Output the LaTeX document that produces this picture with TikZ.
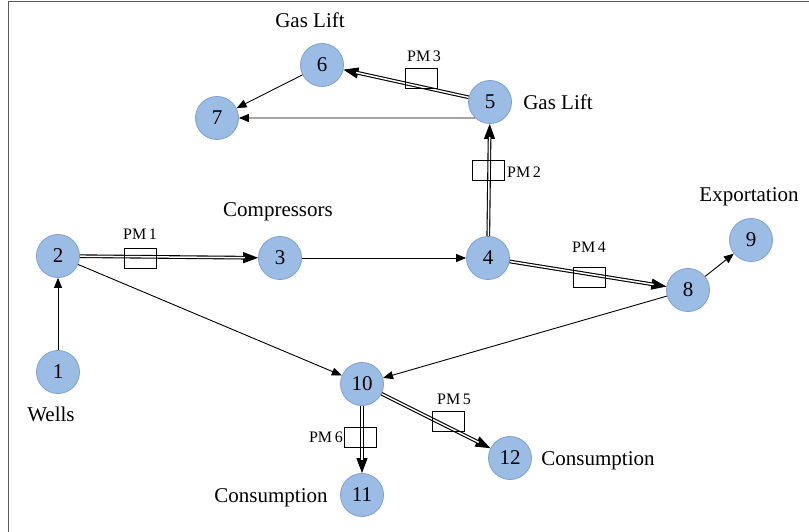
\documentclass[tikz,border=0pt]{standalone}
\usepackage{fontspec}
\setmainfont{Liberation Serif}
\usetikzlibrary{arrows.meta}
\definecolor{nodefill}{RGB}{155,188,228}
\definecolor{nodeline}{RGB}{125,160,208}
\tikzset{
  stn/.style={circle, minimum size=43pt, inner sep=0pt, fill=nodefill, draw=nodeline, line width=0.8pt, font=\fontsize{21}{21}\selectfont},
  lbl/.style={font=\fontsize{21}{21}\selectfont, inner sep=0pt},
  pmlbl/.style={font=\fontsize{16}{16}\selectfont, inner sep=0pt},
  pmbox/.style={draw=black, fill=none, line width=0.9pt, minimum width=32pt, minimum height=20pt, inner sep=0pt},
  arr/.style={draw=black, line width=0.9pt, -{Triangle[length=10pt,width=8pt]}},
  bigarr/.style={draw=black, line width=1pt, -{Triangle[length=15pt,width=11pt]}},
  dbl/.style={draw=black, double=white, double distance=1.5pt, line width=1.1pt}
}
\begin{document}
\begin{tikzpicture}[x=1pt,y=-1pt]
\useasboundingbox (0,0) rectangle (809,532);
\draw[gray!70!black, line width=1pt] (8,532) -- (8,2) -- (809,2);

\node[stn] (n1) at (58,372) {1};
\node[stn] (n2) at (58,256) {2};
\node[stn] (n3) at (280,258) {3};
\node[stn] (n4) at (488,258) {4};
\node[stn] (n5) at (490,102) {5};
\node[stn] (n6) at (322,65) {6};
\node[stn] (n7) at (217,118) {7};
\node[stn] (n8) at (688,290) {8};
\node[stn] (n9) at (751,240) {9};
\node[stn] (n10) at (362,384) {10};
\node[stn] (n11) at (362,495) {11};
\node[stn] (n12) at (510,458) {12};

\node[lbl] (tgl1) at (310,20) {Gas Lift};
\node[lbl] (tgl2) at (558,102) {Gas Lift};
\node[lbl] (tcomp) at (278,212) {Compressors};
\node[lbl] (texp) at (749,197) {Exportation};
\node[lbl] (twell) at (51,414) {Wells};
\node[lbl] (tcons1) at (271,498) {Consumption};
\node[lbl] (tcons2) at (598,461) {Consumption};

% single arrows
\draw[arr] (n1) -- (n2);
\draw[arr] (n3) -- (n4);
\draw[arr] (n5.227) -- (n7);
\draw[arr] (n6) -- (n7);
\draw[arr] (n8) -- (n9);
\draw[arr] (n8) -- (n10);
\draw[arr] (n2) -- (n10);

% double arrows: tip first, then double line over it
\foreach \a/\b in {n2/n3, n4/n5, n5/n6, n4/n8, n10/n11, n10/n12}{
  \draw[bigarr] (\a) -- (\b);
  \draw[dbl, shorten >=13pt] (\a) -- (\b);
}

% PM boxes
\node[pmbox] (pm1) at (140,258) {};
\node[pmlbl] (pm1l) at (140,234) {PM\,1};
\node[pmbox] (pm2) at (488,170) {};
\node[pmlbl, anchor=west] (pm2l) at (507,172) {PM\,2};
\node[pmbox] (pm3) at (421,78) {};
\node[pmlbl] (pm3l) at (424,56) {PM\,3};
\node[pmbox] (pm4) at (589,277) {};
\node[pmlbl] (pm4l) at (589,247) {PM\,4};
\node[pmbox] (pm5) at (448,421) {};
\node[pmlbl] (pm5l) at (454,399) {PM\,5};
\node[pmbox] (pm6) at (360,437) {};
\node[pmlbl, anchor=east] (pm6l) at (343,437) {PM\,6};
\end{tikzpicture}
\end{document}
